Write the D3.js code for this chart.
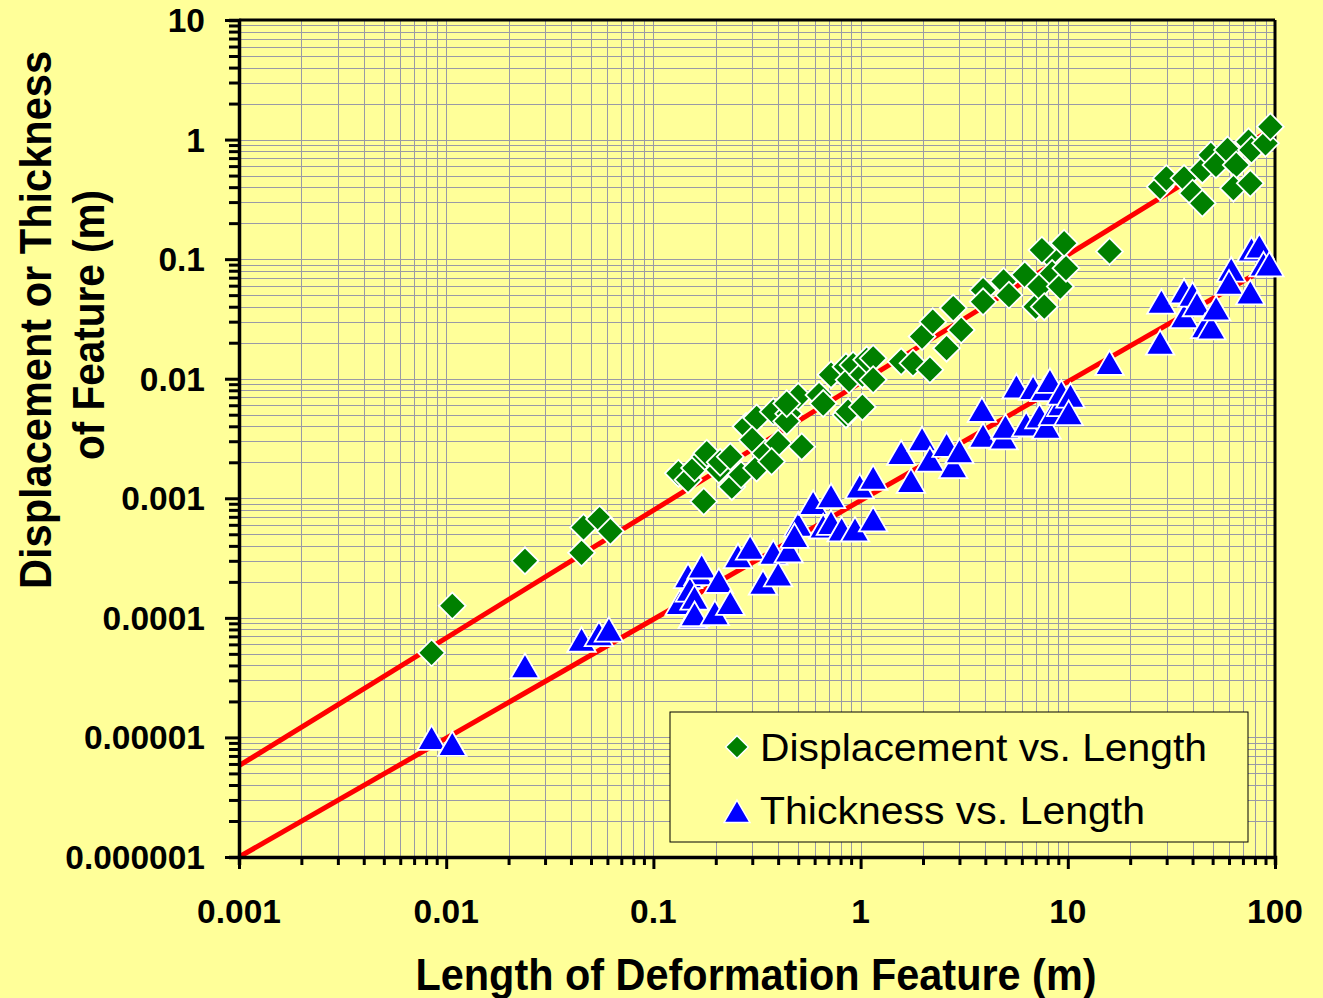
<!DOCTYPE html>
<html>
<head>
<meta charset="utf-8">
<style>
  body { margin: 0; background: #ffff99; }
  svg { display: block; font-family: "Liberation Sans", Arial, sans-serif; }
  .tick-label { font-weight: bold; font-size: 33.5px; fill: #000; }
  .title { font-weight: bold; font-size: 44px; fill: #000; }
  .legend text { font-size: 38px; fill: #000; }
</style>
<script src="https://cdn.jsdelivr.net/npm/d3@7"></script>
</head>
<body>
<svg id="chart" width="1323" height="998"></svg>
<script>
// Displacement vs. Length (green diamonds)
var dispLength = [0.0085, 0.0107, 0.024, 0.045, 0.046, 0.055, 0.062,
  0.132, 0.147, 0.158, 0.177, 0.175, 0.181, 0.207, 0.21, 0.235, 0.239, 0.265,
  0.28, 0.315, 0.30, 0.315, 0.346, 0.379, 0.40, 0.372, 0.45, 0.50, 0.52, 0.44,
  0.44, 0.63, 0.66, 0.72, 0.85, 0.85, 0.87, 0.88, 0.92, 1.02, 1.02, 1.07, 1.15,
  1.15, 1.57, 1.79, 2.16, 1.98, 2.23, 2.8, 2.6, 3.06, 3.9, 3.9, 4.9, 5.2, 6.2,
  7.0, 7.3, 7.7, 8.2, 8.4, 9.2, 9.8, 9.6, 7.5, 15.9,
  27.9, 29.9, 36.4, 40.0, 44.6, 44.6, 49.0, 51.9, 59, 65, 63, 76, 74.5, 77, 90, 95];
var dispValue = [5.1e-5, 1.26e-4, 3.0e-4, 3.5e-4, 5.7e-4, 6.7e-4, 5.3e-4,
  1.62e-3, 1.43e-3, 1.79e-3, 2.23e-3, 9.4e-4, 2.38e-3, 1.73e-3, 2.0e-3, 2.23e-3, 1.25e-3, 1.57e-3,
  3.98e-3, 4.7e-3, 3.08e-3, 1.79e-3, 2.38e-3, 5.3e-3, 2.89e-3, 2.03e-3, 5.1e-3, 7.1e-3, 2.7e-3, 4.4e-3,
  6.2e-3, 7.3e-3, 6.2e-3, 1.08e-2, 5.0e-3, 1.26e-2, 5.3e-3, 9.8e-3, 1.3e-2, 5.8e-3, 1.08e-2, 1.44e-2, 1.48e-2,
  9.8e-3, 1.39e-2, 1.35e-2, 1.19e-2, 2.25e-2, 3.0e-2, 3.9e-2, 1.8e-2, 2.56e-2, 5.5e-2, 4.4e-2, 6.5e-2, 5.0e-2, 7.4e-2,
  4.0e-2, 5.9e-2, 4.0e-2, 0.108, 7.6e-2, 5.9e-2, 8.4e-2, 0.136, 0.119, 0.116,
  0.403, 0.474, 0.474, 0.356, 0.293, 0.557, 0.743, 0.614, 0.818, 0.614, 0.392, 0.431, 0.96, 0.818, 0.93, 1.28];

// Thickness vs. Length (blue triangles)
var thickLength = [0.0085, 0.0107, 0.024, 0.045, 0.0546, 0.061,
  0.147, 0.165, 0.134, 0.155, 0.150, 0.171, 0.158, 0.158, 0.198, 0.207, 0.235,
  0.256, 0.293, 0.338, 0.379, 0.40, 0.45, 0.50, 0.48, 0.59, 0.72, 0.66, 0.72,
  0.81, 0.94, 0.99, 1.15, 1.15, 1.57, 1.75, 1.98, 2.16, 2.6, 2.8, 3.0,
  3.85, 3.9, 4.9, 5.0, 5.65, 6.3, 6.8, 7.3, 7.7, 7.9, 8.2, 8.5, 9.3, 9.3, 10.3, 10.1,
  15.9, 28.3, 27.9, 36.4, 36.4, 40, 42, 46, 49.3, 52, 61.5, 60, 76, 77, 84, 88, 94];
var thickValue = [9.2e-6, 8.2e-6, 3.67e-5, 6.1e-5, 6.8e-5, 7.4e-5,
  2.08e-4, 2.2e-4, 1.24e-4, 9.6e-5, 1.6e-4, 2.5e-4, 1.37e-4, 1.0e-4, 1.02e-4, 1.89e-4, 1.24e-4,
  3.05e-4, 3.6e-4, 1.83e-4, 3.26e-4, 2.15e-4, 3.4e-4, 5.6e-4, 4.5e-4, 8.5e-4, 9.7e-4, 5.4e-4, 5.8e-4,
  5.1e-4, 5.1e-4, 1.17e-3, 1.38e-3, 6.2e-4, 2.23e-3, 1.3e-3, 2.9e-3, 1.96e-3, 2.6e-3, 1.73e-3, 2.3e-3,
  5.1e-3, 3.1e-3, 3.0e-3, 3.7e-3, 8.0e-3, 3.85e-3, 7.8e-3, 4.5e-3, 7.6e-3, 3.7e-3, 8.9e-3, 4.8e-3, 5.7e-3, 7.1e-3, 6.7e-3, 4.8e-3,
  1.26e-2, 4.1e-2, 1.86e-2, 5.0e-2, 3.1e-2, 4.7e-2, 3.9e-2, 2.56e-2, 2.5e-2, 3.6e-2, 7.6e-2, 5.9e-2, 4.9e-2, 0.112, 0.119, 8.4e-2, 8.4e-2];

// trend lines (power fits), end points
var fitLength = [0.001, 100];
var dispFit = [5.8e-6, 1.27];
var thickFit = [1.0e-6, 0.093];

var xTicks = [0.001, 0.01, 0.1, 1, 10, 100];
var xTickLabels = ["0.001", "0.01", "0.1", "1", "10", "100"];
var yTicks = [1e-6, 1e-5, 1e-4, 1e-3, 1e-2, 1e-1, 1, 10];
var yTickLabels = ["0.000001", "0.00001", "0.0001", "0.001", "0.01", "0.1", "1", "10"];
var seriesNames = ["Displacement vs. Length", "Thickness vs. Length"];

var svg = d3.select("#chart");
var margin = {left: 239, top: 20, right: 48, bottom: 141};
var W = 1323 - margin.left - margin.right, H = 998 - margin.top - margin.bottom;

svg.append("rect").attr("width", 1323).attr("height", 998).attr("fill", "#ffff99");

var x = d3.scaleLog().domain([0.001, 100]).range([0, W]);
var y = d3.scaleLog().domain([1e-6, 10]).range([H, 0]);

var g = svg.append("g").attr("transform", "translate(" + margin.left + "," + margin.top + ")");

// minor + major grid
function logSteps(lo, hi) {
  var out = [];
  for (var e = lo; e < hi; e++) {
    for (var k = 1; k <= 9; k++) out.push(k * Math.pow(10, e));
  }
  out.push(Math.pow(10, hi));
  return out;
}
var xGrid = logSteps(-3, 2), yGrid = logSteps(-6, 1);

g.append("g").selectAll("line").data(xGrid).enter().append("line")
  .attr("x1", function(d) { return Math.round(x(d)) + 0.5; })
  .attr("x2", function(d) { return Math.round(x(d)) + 0.5; })
  .attr("y1", 0).attr("y2", H)
  .attr("stroke", "#9a9aa6").attr("stroke-width", 1);
g.append("g").selectAll("line").data(yGrid).enter().append("line")
  .attr("y1", function(d) { return Math.round(y(d)) + 0.5; })
  .attr("y2", function(d) { return Math.round(y(d)) + 0.5; })
  .attr("x1", 0).attr("x2", W)
  .attr("stroke", "#9a9aa6").attr("stroke-width", 1);

// frame top/right
g.append("line").attr("x1", 0).attr("x2", W).attr("y1", 0).attr("y2", 0).attr("stroke", "#000").attr("stroke-width", 3);
g.append("line").attr("x1", W).attr("x2", W).attr("y1", 0).attr("y2", H).attr("stroke", "#000").attr("stroke-width", 3);

// trend lines
var fitLine = d3.line().x(function(d) { return x(d[0]); }).y(function(d) { return y(d[1]); });
[dispFit, thickFit].forEach(function(f) {
  g.append("path").datum(d3.zip(fitLength, f)).attr("d", fitLine)
    .attr("fill", "none").attr("stroke", "#ff0000").attr("stroke-width", 5);
});

// points
var diamond = d3.symbol().type(d3.symbolSquare).size(360);
var triangle = d3.symbol().type(d3.symbolTriangle).size(350);

g.append("g").selectAll("path").data(d3.zip(thickLength, thickValue)).enter().append("path")
  .attr("d", triangle)
  .attr("transform", function(d) { return "translate(" + x(d[0]) + "," + y(d[1]) + ")"; })
  .attr("fill", "#0000ff").attr("stroke", "#fff").attr("stroke-width", 1.8);

g.append("g").selectAll("path").data(d3.zip(dispLength, dispValue)).enter().append("path")
  .attr("d", diamond)
  .attr("transform", function(d) { return "translate(" + x(d[0]) + "," + y(d[1]) + ") rotate(45)"; })
  .attr("fill", "#008000").attr("stroke", "#fff").attr("stroke-width", 1.8);

// axes
var xAxis = d3.axisBottom(x).tickValues(xGrid).tickSize(8).tickFormat("");
var gx = g.append("g").attr("transform", "translate(0," + H + ")").call(xAxis);
gx.selectAll(".tick line").attr("stroke-width", 3)
  .attr("y2", function(d) { return xTicks.indexOf(d) >= 0 ? 12 : 8; });
gx.select(".domain").attr("stroke-width", 3.5);

var yAxis = d3.axisLeft(y).tickValues(yGrid).tickSize(10).tickFormat("");
var gy = g.append("g").call(yAxis);
gy.selectAll(".tick line").attr("stroke-width", 3)
  .attr("x2", function(d) { return yTicks.indexOf(d) >= 0 ? -14 : -10; });
gy.select(".domain").attr("stroke-width", 3.5);

g.selectAll(".domain").attr("stroke", "#000");

g.append("g").selectAll("text").data(xTicks).enter().append("text")
  .attr("class", "tick-label").attr("text-anchor", "middle")
  .attr("x", function(d) { return x(d); }).attr("y", H + 66)
  .text(function(d, i) { return xTickLabels[i]; });

g.append("g").selectAll("text").data(yTicks).enter().append("text")
  .attr("class", "tick-label").attr("text-anchor", "end")
  .attr("x", -34).attr("y", function(d) { return y(d) + 12; })
  .text(function(d, i) { return yTickLabels[i]; });

// titles
svg.append("text").attr("class", "title").attr("text-anchor", "middle")
  .attr("x", 756).attr("y", 990)
  .attr("textLength", 681).attr("lengthAdjust", "spacingAndGlyphs")
  .text("Length of Deformation Feature (m)");

var yt = svg.append("g").attr("transform", "translate(0,320) rotate(-90)");
yt.append("text").attr("class", "title").attr("text-anchor", "middle")
  .attr("x", 0).attr("y", 51)
  .attr("textLength", 538).attr("lengthAdjust", "spacingAndGlyphs")
  .text("Displacement or Thickness");
yt.append("text").attr("class", "title").attr("text-anchor", "middle")
  .attr("x", -5).attr("y", 104)
  .attr("textLength", 270).attr("lengthAdjust", "spacingAndGlyphs")
  .text("of Feature (m)");

// legend
var lg = svg.append("g").attr("class", "legend").attr("transform", "translate(670,712)");
lg.append("rect").attr("width", 578).attr("height", 130)
  .attr("fill", "#ffff99").attr("stroke", "#000").attr("stroke-width", 1);
lg.append("path").attr("d", d3.symbol().type(d3.symbolSquare).size(260))
  .attr("transform", "translate(67,35) rotate(45)")
  .attr("fill", "#008000").attr("stroke", "#fff").attr("stroke-width", 1.5);
lg.append("path").attr("d", d3.symbol().type(d3.symbolTriangle).size(290))
  .attr("transform", "translate(67,103)")
  .attr("fill", "#0000ff").attr("stroke", "#fff").attr("stroke-width", 1.5);
var legendWidths = [447, 385];
lg.selectAll("text.item").data(seriesNames).enter().append("text")
  .attr("class", "item").attr("x", 90)
  .attr("y", function(d, i) { return 49 + i * 63; })
  .attr("textLength", function(d, i) { return legendWidths[i]; })
  .attr("lengthAdjust", "spacingAndGlyphs")
  .text(function(d) { return d; });
</script>
</body>
</html>
